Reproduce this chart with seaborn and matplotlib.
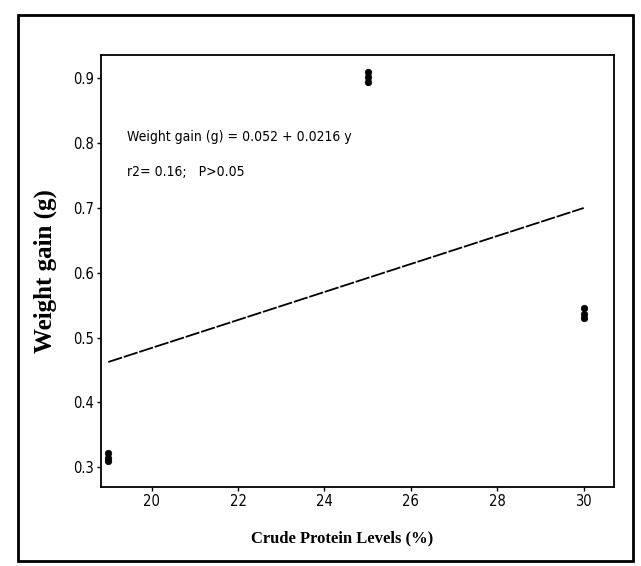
import numpy as np
import pandas as pd
import matplotlib.pyplot as plt
import matplotlib.patches as patches
import seaborn as sns

# observed points (several fish per protein level, overlapping)
protein_level = [19, 19, 19, 25, 25, 25, 30, 30, 30]
weight_gain = [0.31, 0.315, 0.322, 0.895, 0.902, 0.91, 0.53, 0.537, 0.545]

# fitted line from the equation in the chart
intercept = 0.052
slope = 0.0216
line_x = [19, 30]

x_ticks = [20, 22, 24, 26, 28, 30]
y_ticks = [0.3, 0.4, 0.5, 0.6, 0.7, 0.8, 0.9]

df = pd.DataFrame({"protein": protein_level, "gain": weight_gain})
fit = pd.DataFrame({"protein": line_x})
fit["gain"] = intercept + slope * fit["protein"]

sns.set_style("ticks")
narrow = ["Liberation Sans Narrow", "DejaVu Sans"]
serif = ["Liberation Serif", "DejaVu Serif"]

fig = plt.figure(figsize=(6.41, 5.66), dpi=100)
ax = fig.add_axes([101 / 641, 1 - 487 / 566, 513 / 641, 432 / 566])

sns.scatterplot(data=df, x="protein", y="gain", ax=ax, color="black",
                s=22, edgecolor="black", linewidth=0.5, zorder=3)
sns.lineplot(data=fit, x="protein", y="gain", ax=ax, color="black",
             linewidth=1.3, dashes=False, linestyle=(0, (8, 1)))

ax.set_xlim(18.83, 30.7)
ax.set_ylim(0.2695, 0.936)
ax.set_xticks(x_ticks)
ax.set_yticks(y_ticks)
ax.set_xticklabels([str(v) for v in x_ticks], family=narrow,
                   stretch="condensed", fontsize=10.5, color="black")
ax.set_yticklabels([f"{v:.1f}" for v in y_ticks], family=narrow,
                   stretch="condensed", fontsize=10.5, color="black")
ax.tick_params(direction="out", length=3, width=1, color="black", pad=2)
for sp in ax.spines.values():
    sp.set_visible(True)
    sp.set_color("black")
    sp.set_linewidth(1.3)

ax.set_xlabel("Crude Protein Levels (%)", family=serif, fontsize=12,
              fontweight="bold", color="black")
ax.set_ylabel("Weight gain (g)", family=serif, fontsize=18,
              fontweight="bold", color="black")
ax.xaxis.set_label_coords(0.47, -0.10)
ax.yaxis.set_label_coords(-0.086, 0.5)

ax.text(0.05, 0.81, "Weight gain (g) = 0.052 + 0.0216 y", transform=ax.transAxes,
        family=narrow, stretch="condensed", fontsize=10, va="center",
        color="black")
ax.text(0.05, 0.729, "r2= 0.16;   P>0.05", transform=ax.transAxes,
        family=narrow, stretch="condensed", fontsize=10, va="center",
        color="black")

# outer border of the printed figure
fig.patches.append(patches.Rectangle((18 / 641, 5 / 566), 615 / 641, 546 / 566,
                                     transform=fig.transFigure, fill=False,
                                     edgecolor="black", linewidth=2))

fig.savefig("out.png", dpi=100, facecolor="white")
